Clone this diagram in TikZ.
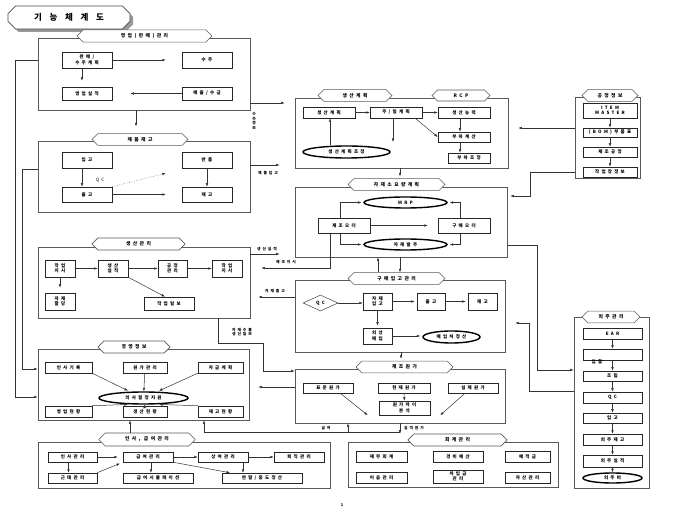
\documentclass[tikz,border=0pt]{standalone}
\usepackage{fontspec}
\setmainfont{Noto Sans CJK KR}
\newfontfamily\kr[LetterSpace=50]{Noto Sans CJK KR}
\newfontfamily\krt[LetterSpace=90]{Noto Sans CJK KR}
\usetikzlibrary{arrows.meta,shapes.geometric,shapes.misc,shadows}
\def\bx[#1](#2)(#3,#4)(#5,#6)#7{\node[#1, minimum width=#5-#3, minimum height=#6-#4] (#2) at ({(#3+#5)/2},{(#4+#6)/2}) {#7};}
\tikzset{
	box/.style={draw=black!85, fill=white, line width=0.5pt, inner sep=0pt, align=center, font=\kr\bfseries\fontsize{4.5}{5.5}\selectfont},
	group/.style={draw=black!65, line width=0.7pt, inner sep=0pt},
	tab/.style={chamfered rectangle, chamfered rectangle xsep=4pt, draw=black!65, fill=white, line width=0.6pt, inner sep=0pt, font=\kr\bfseries\fontsize{4.8}{5.5}\selectfont},
	titletab/.style={chamfered rectangle, chamfered rectangle xsep=6pt, draw=black!70, fill=white, line width=0.6pt, inner sep=0pt, font=\krt\bfseries\fontsize{8.5}{9}\selectfont, drop shadow={fill=black!40, opacity=1, shadow xshift=3pt, shadow yshift=-3pt}},
	oval/.style={ellipse, draw=black, fill=white, line width=1.4pt, inner sep=0pt, font=\kr\bfseries\fontsize{4.5}{5.5}\selectfont},
	qcdia/.style={diamond, draw=black!75, fill=white, line width=0.5pt, inner sep=0pt, font=\kr\bfseries\fontsize{4.5}{5.5}\selectfont},
	lbl/.style={inner sep=0pt, align=center, font=\kr\bfseries\fontsize{3.8}{4.5}\selectfont},
	arr/.style={-{Latex[length=3.5pt,width=2.6pt]}, line width=0.5pt, draw=black!80},
}

\begin{document}
\begin{tikzpicture}[x=1pt,y=-1pt]
	%%%%% START %%%%%
	\useasboundingbox (0,0) rectangle (680,510);
	
	\bx[titletab](ttl)(8,6)(130,29){기능체계도}
	
	% group frames
	\bx[group](yg)(38,38)(250,110){}
	\bx[group](jg)(38,141)(250,212){}
	\bx[group](sg)(38,247)(250,318){}
	\bx[group](gg)(38,349)(249,420){}
	\bx[group](ig)(38,442)(330,488){}
	\bx[group](pg)(295,98)(508,168){}
	\bx[group](mg)(295,187)(507,257){}
	\bx[group](kg)(295,280)(505,352){}
	\bx[group](cw)(295,369)(505,423){}
	\bx[group](hg)(348,442)(558,487){}
	\bx[group](pi)(575,97)(640,178){}
	\bx[group](oj)(574,317)(649,488){}
	
	% tabs
	\bx[tab](ygh)(77,30)(212,42){영업(판매)관리}
	\bx[tab](jgh)(92,134)(188,145){제품재고}
	\bx[tab](sgh)(92,238)(185,250){생산관리}
	\bx[tab](ggh)(98,341)(170,353){경영정보}
	\bx[tab](igh)(99,433)(195,446){인사, 급여관리}
	\bx[tab](pgh)(318,90)(392,101){생산계획}
	\bx[tab](rcp)(432,90)(490,101){RCP}
	\bx[tab](mgh)(348,179)(445,190){자재소요량계획}
	\bx[tab](kgh)(348,273)(445,284){구매입고관리}
	\bx[tab](cwh)(356,362)(453,372){제조원가}
	\bx[tab](hgh)(408,434)(507,446){회계관리}
	\bx[tab](pih)(582,90)(638,101){공정정보}
	\bx[tab](ojh)(582,312)(640,322){외주관리}
	
	% 영업(판매)관리
	\bx[box](pm)(62,52)(112,68){판매/\\수주계획}
	\bx[box](sj)(182,52)(232,68){수주}
	\bx[box](ys)(62,87)(112,100){영업실적}
	\bx[box](mc)(182,87)(232,100){매출/수금}
	\draw[arr, shorten >=16pt] (pm) -- (sj);
	\draw[arr, shorten >=6pt] ([xshift=-5pt]pm.south) -- ([xshift=-5pt]pm.south |- ys.north);
	\draw[arr, shorten >=18pt] (mc) -- (ys);
	\draw[arr, shorten >=7pt] (yg.south -| 136,0) -- (jgh.north -| 136,0);
	
	% 제품재고
	\bx[box](ig1)(62,152)(112,168){입고}
	\bx[box](bp)(182,152)(232,168){반품}
	\bx[box](cg)(62,187)(112,202){출고}
	\bx[box](jk)(182,187)(232,202){재고}
	\node[lbl, font=\kr\fontsize{4.5}{5}\selectfont] (qcl) at (100,180) {QC};
	\draw[arr] ([xshift=-5pt]ig1.south) -- ([xshift=-5pt]cg.north);
	\draw[arr] (bp) -- (jk);
	\draw[arr, shorten >=16pt] (cg) -- (jk);
	\draw[arr, dotted] (cg.north east) -- ([shift={(-16,5)}]bp.south west);
	
	% 생산관리
	\bx[box](jj1)(45,260)(75,277){작업\\지시}
	\bx[box](ss)(98,260)(128,277){생산\\실적}
	\bx[box](gj)(158,260)(187,277){공정\\관리}
	\bx[box](jj2)(212,260)(242,277){작업\\지시}
	\bx[box](jh)(45,293)(75,310){자재\\할당}
	\bx[box](jb)(144,297)(194,310){작업일보}
	\draw[arr] (jj1) -- (ss);
	\draw[arr] (ss) -- (gj);
	\draw[arr] (gj) -- (jj2);
	\draw[arr, shorten >=5pt] (jj1) -- (jh);
	\draw[arr] (ss.south east) -- ([xshift=-4pt]jb.north);
	
	% 경영정보
	\bx[box](is)(45,362)(92,373){인사기록}
	\bx[box](wg)(123,362)(167,373){원가관리}
	\bx[box](jk2)(198,362)(243,373){자금계획}
	\bx[oval](ui)(99,392)(188,404){의사결정지원}
	\bx[box](yh)(45,406)(92,417){영업현황}
	\bx[box](sh)(123,406)(167,417){생산현황}
	\bx[box](jh2)(198,406)(243,417){재고현황}
	\draw[arr, shorten >=2pt] (is.south east) -- (ui.155);
	\draw[arr] (wg) -- (ui);
	\draw[arr, shorten >=2pt] (jk2.south west) -- (ui.25);
	\draw[arr, shorten >=2pt] (yh.north east) -- (ui.205);
	\draw[arr] (sh) -- (ui);
	\draw[arr, shorten >=2pt] (jh2.north west) -- (ui.-25);
	
	% 인사, 급여관리
	\bx[box](ia)(48,452)(97,462){인사관리}
	\bx[box](ga)(123,452)(173,462){급여관리}
	\bx[box](sa)(198,452)(248,462){상여관리}
	\bx[box](ta)(274,452)(324,462){퇴직관리}
	\bx[box](ka)(48,473)(97,483){근태관리}
	\bx[box](gs)(123,473)(193,483){급여시뮬레이션}
	\bx[box](yj)(222,473)(302,483){연말/중도정산}
	\draw[arr, shorten >=5pt] (ia) -- (ga);
	\draw[arr, shorten >=3pt] (ka.north east) -- (ga.south west);
	\draw[arr] ([xshift=-4pt]ia.south) -- ([xshift=-4pt]ia.south |- ka.north);
	\draw[arr] ([xshift=3pt]ga.south) -- ([xshift=3pt]ga.south |- gs.north);
	\draw[arr] (ga) -- (sa);
	\draw[arr] (sa) -- (ta);
	\draw[arr] ([xshift=20pt]sa.south) -- ([xshift=20pt]sa.south |- yj.north);
	\draw[arr] (ga.south east) -- ([xshift=-32pt]yj.north);
	\draw[arr] (igh.north -| 130,0) -- (gg.south -| 130,0);
	
	% 생산계획
	\bx[box](pp)(303,107)(355,118){생산계획}
	\bx[box](jp)(370,107)(422,118){주/일계획}
	\bx[box](sn)(438,107)(490,118){생산능력}
	\bx[box](bg)(438,132)(490,142){부하계산}
	\bx[box](bj)(448,153)(490,163){부하조정}
	\bx[oval](pj)(303,146)(390,158){생산계획조정}
	\coordinate (jpd) at (393,142);
	\draw[arr] (pp) -- (jp);
	\draw[arr] (jp) -- (sn);
	\draw[arr] ([xshift=-4pt]sn.south) -- ([xshift=-4pt]sn.south |- bg.north);
	\draw[arr] ([xshift=-4pt]bg.south) -- ([xshift=-4pt]bg.south |- bj.north);
	\draw[arr] ([xshift=-7pt]jp.south east) -- (bg.west);
	\draw[arr] (jp.south -| jpd) -- (jpd);
	\draw[arr] (pj.north -| 330,0) -- (pp.south -| 330,0);
	\draw[arr, shorten >=2pt] (pg.south -| 400,0) -- (mgh.north -| 400,0);
	
	% 자재소요량계획
	\bx[oval](mrp)(364,197)(447,208){MRP}
	\bx[box](mo)(318,218)(370,233){제조오더}
	\bx[box](po)(438,218)(490,233){구매오더}
	\bx[oval](jb2)(364,239)(447,250){자재발주}
	\draw[arr, shorten >=10pt] (mo) -- (po);
	\draw[arr, shorten >=2pt] ([xshift=-4pt]mo.north) |- (mrp.west);
	\draw[arr, shorten >=2pt] ([xshift=-4pt]mo.south) |- (jb2.west);
	\draw[arr, shorten >=2pt] ([xshift=-4pt]po.north) |- (mrp.east);
	\draw[arr, shorten >=2pt] ([xshift=-4pt]po.south) |- (jb2.east);
	\draw[arr, shorten >=11pt] ([xshift=-14pt]mo.south) |- (sg.east |- 0,268);
	\node[lbl] (l1) at (286,262) {제조지시};
	
	% 구매입고관리
	\bx[qcdia](qc)(303,295)(338,311){QC}
	\bx[box](ji)(363,293)(392,310){자재\\입고}
	\bx[box](kc)(417,293)(445,310){출고}
	\bx[box](kj)(468,293)(497,310){재고}
	\bx[box](om)(363,328)(392,344){외상\\매입}
	\bx[oval](mj)(423,331)(480,343){매입처정산}
	\draw[arr] (qc.east) -- (qc.east -| ji.west);
	\draw[arr, shorten >=2pt] (ji) -- (kc);
	\draw[arr, shorten >=2pt] (kc) -- (kj);
	\draw[arr, shorten >=2pt] (ji) -- (om);
	\draw[arr, shorten >=2pt] (om.east) -- (om.east -| mj.west);
	\draw[arr] (mg.south -| 400,0) -- (kgh.north -| 400,0);
	\draw[arr] (kgh.north -| 378,0) -- (mg.south -| 378,0);
	\draw[arr, shorten >=2pt] (kg.south -| 401,0) -- (cwh.north -| 401,0);
	\draw[arr, shorten >=8pt] (kg.west |- 0,297) -- (sg.east |- 0,297);
	\node[lbl] (l2) at (275,291) {자재출고};
	
	% 제조원가
	\bx[box](pw)(303,383)(353,393){표준원가}
	\bx[box](hw)(378,383)(430,393){현재원가}
	\bx[box](sw)(448,383)(498,393){실제원가}
	\bx[box](ca)(379,401)(430,415){원가차이\\분석}
	\draw[arr] ([xshift=-13pt]pw.south east) -- ([xshift=-11pt]ca.south west);
	\draw[arr] (hw) -- (ca);
	\draw[arr] ([xshift=-8pt]sw.south) -- ([xshift=10pt]ca.south east);
	\draw[arr, shorten >=9pt] (cw.west |- 0,387) -- (gg.east |- 0,387);
	\draw[arr] (sg.south -| 218,0) -- (218,343) -- (263,343) -- (263,371) -- (cw.west |- 0,371);
	\node[lbl] (l3) at (242,332) {자재수불\\생산일보};
	
	% 회계관리
	\bx[box](jm)(356,451)(407,462){재무회계}
	\bx[box](gy)(433,451)(483,462){경비예산}
	\bx[box](yg2)(505,451)(550,462){예적금}
	\bx[box](em)(356,472)(407,483){어음관리}
	\bx[box](cm)(433,470)(483,483){차입금\\관리}
	\bx[box](ja)(505,472)(550,483){자산관리}
	\coordinate (jt) at (400,432);
	\coordinate (gt) at (348,432);
	\draw[arr] (cw.south -| 400,0) -- (hgh.north -| 400,0);
	\draw[arr] (jt) -| (gg.south -| 204,0);
	\draw[arr] (gt) -- (cw.south -| 348,0);
	\node[lbl] (l4) at (326,428) {급여};
	\node[lbl] (l5) at (414,428) {실적원가};
	
	% 공정정보
	\bx[box](im)(583,103)(637,118){ITEM\\MASTER}
	\bx[box](bom)(583,128)(637,137){(BOM)부품표}
	\bx[box](jg2)(583,147)(637,157){제조공정}
	\bx[box](jjb)(583,167)(637,177){작업장정보}
	\foreach \a/\b in {im/bom,bom/jg2,jg2/jjb}
		\draw[arr] (\a) -- (\b);
	
	% 외주관리
	\bx[box](e1)(583,328)(642,339){EAR}
	\bx[box](e2)(583,349)(642,360){}
	\bx[box](e3)(583,371)(642,381){조립}
	\bx[box](e4)(583,392)(642,403){QC}
	\bx[box](e5)(583,413)(642,423){입고}
	\bx[box](e6)(583,434)(642,445){외주재고}
	\bx[box](e7)(583,455)(642,467){외주실적}
	\bx[oval](e8)(583,473)(642,483){외주비}
	\node[lbl, font=\kr\bfseries\fontsize{4.5}{5}\selectfont] (ib) at (597,362) {입찰};
	\foreach \a/\b in {e1/e2,e2/e3,e3/e4,e4/e5,e5/e6,e6/e7,e7/e8}
		\draw[arr] (\a) -- (\b);
	
	% links between groups
	\draw[arr] (yg.west |- 0,60) -- (15,60) -- (15,397) -- (gg.west |- 0,397);
	\draw[arr] (jg.west |- 0,169) -- (22,169) -- (22,369) -- (gg.west |- 0,369);
	\draw[arr, shorten >=10pt] (yg.east |- 0,103) -- (pg.west |- 0,103);
	\node[lbl] (l6) at (254,121) {수\\주\\정\\보};
	\draw[arr, shorten >=15pt] (jg.east |- 0,165) -- (pg.west |- 0,165);
	\node[lbl] (l7) at (268,173) {제품입고};
	\draw[arr, shorten >=15pt] (sg.east |- 0,254) -- (mg.west |- 0,254);
	\node[lbl] (l8) at (267,249) {생산실적};
	\draw[arr, shorten >=10pt] (pi.west |- 0,128) -- (pg.east |- 0,128);
	\draw[arr, shorten >=3pt] (pi.west |- 0,172) -- (530,172) -- (530,196) -- (mg.east |- 0,196);
	\draw[arr] (mg.east |- 0,245) -- (537,245) -- (537,370) -- (oj.west |- 0,370);
	\draw[arr, shorten >=10pt] (oj.west |- 0,391) -- (529,391) -- (529,323) -- (kg.east |- 0,323);
	
	\node[lbl] (pgno) at (342,505) {1};
	%%%%% END %%%%%
\end{tikzpicture}
\end{document}
